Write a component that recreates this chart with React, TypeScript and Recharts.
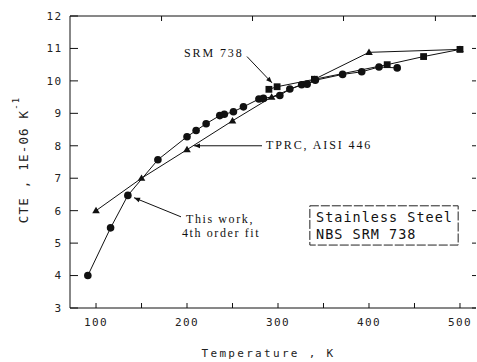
import React from 'react';
import { LineChart, Line, XAxis, YAxis, ReferenceLine, ReferenceArea, ReferenceDot } from 'recharts';

// "This work, 4th order fit" (circles)
const workTemp = [91, 116, 135, 168, 200, 210, 221, 236, 241, 251, 262, 279, 284, 302, 313, 326, 332, 341, 371, 392, 411, 431];
const workCte = [4.0, 5.47, 6.47, 7.57, 8.28, 8.47, 8.68, 8.93, 8.97, 9.05, 9.2, 9.44, 9.46, 9.55, 9.75, 9.88, 9.9, 10.02, 10.2, 10.28, 10.43, 10.4];
// SRM 738 (squares)
const srmTemp = [290, 299, 340, 420, 460, 500];
const srmCte = [9.74, 9.82, 10.05, 10.5, 10.75, 10.97];
// TPRC, AISI 446 (triangles)
const tprcTemp = [100, 150, 200, 250, 293, 340, 400, 500];
const tprcCte = [6.0, 7.0, 7.88, 8.77, 9.5, 10.05, 10.88, 10.97];

const xTicks = [100, 150, 200, 250, 300, 350, 400, 450, 500];
const topTicks = [172, 272, 372, 473];
const yTicks = [3, 4, 5, 6, 7, 8, 9, 10, 11, 12];
const xDomain = [71.4, 517.6];
const yDomain = [3, 12];

const work = workTemp.map((t, i) => ({ t, v: workCte[i] }));
const srm = srmTemp.map((t, i) => ({ t, v: srmCte[i] }));
const tprc = tprcTemp.map((t, i) => ({ t, v: tprcCte[i] }));

const MONO = '"DejaVu Sans Mono", monospace';
const SERIF = '"Liberation Serif", "DejaVu Serif", serif';
const INK = '#111';

const BottomTick = (p: any) => {
  const v = p.payload.value;
  if (v % 100 !== 0) return <g />;
  return (
    <text x={p.x} y={p.y} dy="0.71em" textAnchor="middle" fontFamily={MONO} fontSize={11} letterSpacing={1.4} fill="#222">
      {v}
    </text>
  );
};

const LeftTick = (p: any) => (
  <text x={p.x} y={p.y} dy="0.355em" textAnchor="end" fontFamily={MONO} fontSize={11} letterSpacing={1.4} fill="#222">
    {p.payload.value}
  </text>
);

const Empty = () => <g />;

const Square = (p: any) => (
  <rect key={`s${p.index}`} x={p.cx - 3.4} y={p.cy - 3.4} width={6.8} height={6.8} fill={INK} />
);
const Tri = (p: any) => (
  <polygon key={`t${p.index}`} points={`${p.cx},${p.cy - 3.8} ${p.cx - 3.8},${p.cy + 2.6} ${p.cx + 3.8},${p.cy + 2.6}`} fill={INK} />
);

const Arrow = (p: any) => (
  <line x1={p.x1} y1={p.y1} x2={p.x2} y2={p.y2} stroke={INK} strokeWidth={1} markerEnd="url(#ah)" />
);

const makeText = (lines: string[], font: string, size: number, spacing: number, gap: number) => (p: any) => (
  <text x={p.cx} y={p.cy} fontFamily={font} fontSize={size} letterSpacing={spacing} fill={INK}>
    {lines.map((l, i) => (
      <tspan key={i} x={p.cx} dy={i === 0 ? 0 : gap}>{l}</tspan>
    ))}
  </text>
);

export default function App() {
  return (
    <div style={{ position: 'absolute', left: 0, top: 0, width: 477, height: 362, background: '#fff' }}>
      <LineChart width={477} height={362} margin={{ top: 15, right: 0, bottom: 53, left: 69 }}>
        <defs>
          <marker id="ah" viewBox="0 0 10 10" refX="10" refY="5" markerWidth="8" markerHeight="6" orient="auto" markerUnits="userSpaceOnUse">
            <path d="M0,1 L10,5 L0,9 z" fill={INK} />
          </marker>
        </defs>
        <XAxis xAxisId="b" type="number" dataKey="t" domain={xDomain} allowDataOverflow ticks={xTicks} interval={0}
          height={1} tickSize={-5} tickMargin={15} tick={BottomTick} axisLine={{ stroke: INK }} tickLine={{ stroke: INK }} />
        <XAxis xAxisId="t" orientation="top" type="number" dataKey="t" domain={xDomain} allowDataOverflow ticks={topTicks} interval={0}
          height={1} tickSize={-5} tick={Empty} axisLine={{ stroke: INK }} tickLine={{ stroke: INK }} />
        <YAxis yAxisId="l" type="number" domain={yDomain} allowDataOverflow ticks={yTicks} interval={0}
          width={1} tickSize={-8} tickMargin={15.5} tick={LeftTick} axisLine={{ stroke: INK }} tickLine={{ stroke: INK }} />
        <YAxis yAxisId="r" orientation="right" type="number" domain={yDomain} allowDataOverflow ticks={yTicks} interval={0}
          width={1} tickSize={-4} tick={Empty} axisLine={false} tickLine={{ stroke: INK }} />

        <ReferenceArea xAxisId="b" yAxisId="l" x1={335} x2={498} y1={4.94} y2={6.15} fill="none" fillOpacity={0}
          stroke="#222" strokeWidth={1} strokeDasharray="9 2" ifOverflow="visible" />

        <Line xAxisId="b" yAxisId="l" data={tprc} dataKey="v" type="linear" stroke={INK} strokeWidth={1} dot={Tri} activeDot={false} isAnimationActive={false} />
        <Line xAxisId="b" yAxisId="l" data={srm} dataKey="v" type="linear" stroke={INK} strokeWidth={1} dot={Square} activeDot={false} isAnimationActive={false} />
        <Line xAxisId="b" yAxisId="l" data={work} dataKey="v" type="linear" stroke={INK} strokeWidth={1}
          dot={{ r: 3.8, fill: INK, stroke: INK, strokeWidth: 0 }} activeDot={false} isAnimationActive={false} />

        <ReferenceLine xAxisId="b" yAxisId="l" segment={[{ x: 265.9, y: 10.75 }, { x: 293.4, y: 9.94 }]} shape={Arrow} ifOverflow="visible" />
        <ReferenceLine xAxisId="b" yAxisId="l" segment={[{ x: 282.4, y: 8.0 }, { x: 207.7, y: 8.0 }]} shape={Arrow} ifOverflow="visible" />
        <ReferenceLine xAxisId="b" yAxisId="l" segment={[{ x: 193.4, y: 5.81 }, { x: 141.8, y: 6.4 }]} shape={Arrow} ifOverflow="visible" />

        <ReferenceDot xAxisId="b" yAxisId="l" x={196.7} y={10.75} r={0} ifOverflow="visible" shape={makeText(['SRM 738'], SERIF, 12, 1.9, 0)} />
        <ReferenceDot xAxisId="b" yAxisId="l" x={286.8} y={7.91} r={0} ifOverflow="visible" shape={makeText(['TPRC, AISI 446'], SERIF, 12, 1.9, 0)} />
        <ReferenceDot xAxisId="b" yAxisId="l" x={198.9} y={5.62} r={0} ifOverflow="visible" shape={makeText(['This work,'], SERIF, 12, 1.6, 0)} />
        <ReferenceDot xAxisId="b" yAxisId="l" x={194.5} y={5.19} r={0} ifOverflow="visible" shape={makeText(['4th order fit'], SERIF, 12, 1.6, 0)} />
        <ReferenceDot xAxisId="b" yAxisId="l" x={341.8} y={5.65} r={0} ifOverflow="visible" shape={makeText(['Stainless Steel', 'NBS SRM 738'], MONO, 13.5, 1.0, 17)} />
      </LineChart>
      <svg width={477} height={362} style={{ position: 'absolute', left: 0, top: 0, pointerEvents: 'none' }}>
        <text x={268.5} y={357} textAnchor="middle" fontFamily={MONO} fontSize={11} letterSpacing={2.3} fill="#222">
          Temperature , K
        </text>
        <text transform="translate(28,160) rotate(-90)" textAnchor="middle" fontFamily={MONO} fontSize={12.5} letterSpacing={1.2} fill="#222">
          CTE , 1E-06 K<tspan dy={-9} fontSize={9} letterSpacing={1}>-1</tspan>
        </text>
      </svg>
    </div>
  );
}
